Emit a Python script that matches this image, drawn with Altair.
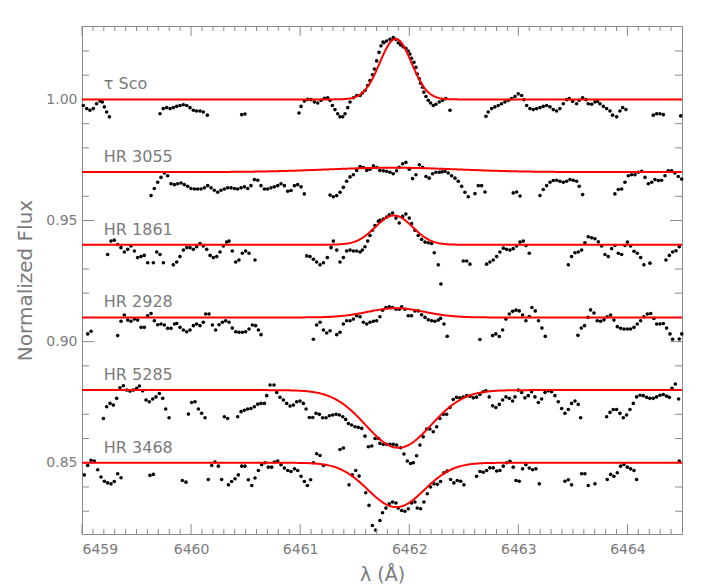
import altair as alt
import numpy as np
import pandas as pd

# ---------------- data ----------------
star_names = ["τ Sco", "HR 3055", "HR 1861", "HR 2928", "HR 5285", "HR 3468"]
baselines = [1.00, 0.97, 0.94, 0.91, 0.88, 0.85]

# Gaussian fit parameters (continuum, amplitude, centre, sigma)
fit_amp = [0.0250, 0.0018, 0.0121, 0.0038, -0.0238, -0.0183]
fit_center = [6461.875, 6461.85, 6461.86, 6461.88, 6461.90, 6461.88]
fit_sigma = [0.145, 0.60, 0.17, 0.26, 0.30, 0.26]

tau_sco = [
    (6459.012, 0.9975), (6459.043, 0.9962), (6459.073, 0.9955), (6459.104, 0.9962), (6459.134, 0.9982),
    (6459.165, 0.9993), (6459.186, 0.9989), (6459.205, 0.9969), (6459.226, 0.9948), (6459.251, 0.9928),
    (6459.715, 0.9941), (6459.745, 0.9962), (6459.776, 0.9966), (6459.807, 0.9962), (6459.837, 0.9966),
    (6459.868, 0.9971), (6459.898, 0.9975), (6459.929, 0.9978), (6459.960, 0.9975), (6459.990, 0.9966),
    (6460.021, 0.9955), (6460.051, 0.9952), (6460.082, 0.9952), (6460.112, 0.9948), (6460.149, 0.9935),
    (6460.464, 0.9937), (6460.494, 0.9940),
    (6460.989, 0.9944), (6461.008, 0.9971), (6461.038, 0.9993), (6461.069, 1.0000), (6461.099, 0.9999),
    (6461.130, 0.9989), (6461.161, 0.9985), (6461.191, 0.9996), (6461.222, 1.0005), (6461.252, 1.0007),
    (6461.274, 0.9996), (6461.295, 0.9975), (6461.319, 0.9958), (6461.344, 0.9941), (6461.365, 0.9928),
    (6461.390, 0.9928), (6461.411, 0.9941), (6461.436, 0.9966), (6461.457, 0.9989), (6461.488, 1.0007),
    (6461.518, 1.0016), (6461.549, 1.0016), (6461.570, 1.0026), (6461.594, 1.0037), (6461.619, 1.0057),
    (6461.640, 1.0078), (6461.662, 1.0102), (6461.680, 1.0125), (6461.701, 1.0159), (6461.723, 1.0194),
    (6461.741, 1.0221), (6461.759, 1.0237), (6461.768, 1.0234), (6461.792, 1.0241), (6461.823, 1.0248),
    (6461.853, 1.0255), (6461.878, 1.0248), (6461.899, 1.0234), (6461.920, 1.0225), (6461.945, 1.0217),
    (6461.969, 1.0211), (6461.991, 1.0200), (6462.006, 1.0187), (6462.021, 1.0170), (6462.043, 1.0153),
    (6462.061, 1.0132), (6462.073, 1.0105), (6462.092, 1.0085), (6462.104, 1.0067), (6462.122, 1.0050),
    (6462.134, 1.0030), (6462.153, 1.0012), (6462.174, 0.9996), (6462.195, 0.9985), (6462.220, 0.9975),
    (6462.244, 0.9980), (6462.275, 0.9989), (6462.305, 0.9996), (6462.336, 1.0003), (6462.373, 0.9955),
    (6462.703, 0.9930), (6462.724, 0.9948), (6462.755, 0.9962), (6462.785, 0.9969), (6462.816, 0.9975),
    (6462.846, 0.9982), (6462.877, 0.9989), (6462.908, 0.9996), (6462.938, 1.0003), (6462.969, 1.0012),
    (6462.999, 1.0023), (6463.030, 1.0016), (6463.051, 0.9999), (6463.076, 0.9975), (6463.106, 0.9962),
    (6463.137, 0.9958), (6463.167, 0.9962), (6463.198, 0.9966), (6463.228, 0.9971), (6463.259, 0.9975),
    (6463.290, 0.9969), (6463.320, 0.9958), (6463.351, 0.9952), (6463.381, 0.9962), (6463.412, 0.9982),
    (6463.442, 0.9999), (6463.467, 1.0003), (6463.497, 0.9992), (6463.534, 0.9982), (6463.558, 0.9996),
    (6463.589, 1.0007), (6463.620, 0.9999), (6463.641, 0.9982), (6463.672, 0.9980), (6463.702, 0.9989),
    (6463.724, 0.9992), (6463.748, 0.9982), (6463.779, 0.9971), (6463.809, 0.9962), (6463.840, 0.9952),
    (6463.864, 0.9935), (6463.901, 0.9928), (6463.931, 0.9952), (6463.956, 0.9966), (6463.986, 0.9958),
    (6464.237, 0.9935), (6464.268, 0.9941), (6464.298, 0.9941), (6464.329, 0.9937),
    (6464.488, 0.9932),
]

hr3055 = [
    (6459.633, 0.9603), (6459.663, 0.9632), (6459.694, 0.9658), (6459.724, 0.9678), (6459.755, 0.9696),
    (6459.785, 0.9685), (6459.816, 0.9652), (6459.847, 0.9648), (6459.877, 0.9652), (6459.908, 0.9655),
    (6459.938, 0.9648), (6459.969, 0.9641), (6459.999, 0.9632), (6460.030, 0.9630), (6460.060, 0.9630),
    (6460.091, 0.9630), (6460.122, 0.9635), (6460.152, 0.9644), (6460.183, 0.9635), (6460.213, 0.9625),
    (6460.244, 0.9617), (6460.274, 0.9625), (6460.305, 0.9630), (6460.335, 0.9635), (6460.366, 0.9635),
    (6460.397, 0.9632), (6460.427, 0.9630), (6460.458, 0.9635), (6460.488, 0.9639), (6460.519, 0.9632),
    (6460.549, 0.9644), (6460.580, 0.9669), (6460.611, 0.9666), (6460.641, 0.9644), (6460.672, 0.9630),
    (6460.702, 0.9630), (6460.733, 0.9635), (6460.763, 0.9639), (6460.794, 0.9644), (6460.824, 0.9652),
    (6460.855, 0.9644), (6460.886, 0.9621), (6460.916, 0.9624), (6460.947, 0.9644), (6460.977, 0.9648),
    (6461.008, 0.9639), (6461.038, 0.9610),
    (6461.274, 0.9605), (6461.304, 0.9598), (6461.335, 0.9603), (6461.365, 0.9617), (6461.396, 0.9637),
    (6461.426, 0.9662), (6461.457, 0.9680), (6461.488, 0.9689), (6461.518, 0.9707), (6461.549, 0.9723),
    (6461.579, 0.9719), (6461.610, 0.9707), (6461.640, 0.9712), (6461.671, 0.9726), (6461.701, 0.9719),
    (6461.731, 0.9707), (6461.762, 0.9705), (6461.792, 0.9703), (6461.823, 0.9699), (6461.853, 0.9693),
    (6461.884, 0.9705), (6461.908, 0.9720), (6461.939, 0.9734), (6461.969, 0.9740), (6462.000, 0.9712),
    (6462.030, 0.9673), (6462.061, 0.9689), (6462.092, 0.9730), (6462.122, 0.9720), (6462.153, 0.9682),
    (6462.183, 0.9675), (6462.214, 0.9693), (6462.244, 0.9699), (6462.275, 0.9699), (6462.300, 0.9701),
    (6462.327, 0.9703), (6462.357, 0.9696), (6462.388, 0.9685), (6462.419, 0.9675), (6462.449, 0.9662),
    (6462.480, 0.9641), (6462.510, 0.9617), (6462.541, 0.9598), (6462.602, 0.9611), (6462.633, 0.9644),
    (6462.663, 0.9644), (6462.694, 0.9618),
    (6462.953, 0.9614), (6462.984, 0.9618), (6463.015, 0.9601),
    (6463.198, 0.9603), (6463.228, 0.9628), (6463.259, 0.9644), (6463.290, 0.9658), (6463.320, 0.9665),
    (6463.351, 0.9666), (6463.381, 0.9662), (6463.412, 0.9658), (6463.442, 0.9662), (6463.473, 0.9669),
    (6463.503, 0.9666), (6463.534, 0.9662), (6463.558, 0.9641), (6463.589, 0.9607),
    (6463.885, 0.9610), (6463.916, 0.9628), (6463.947, 0.9630), (6463.977, 0.9658), (6464.008, 0.9685),
    (6464.038, 0.9689), (6464.069, 0.9689), (6464.099, 0.9699), (6464.130, 0.9703), (6464.161, 0.9678),
    (6464.191, 0.9652), (6464.222, 0.9658), (6464.252, 0.9669), (6464.283, 0.9665), (6464.313, 0.9666),
    (6464.344, 0.9685), (6464.374, 0.9705), (6464.405, 0.9705), (6464.435, 0.9696), (6464.466, 0.9682),
    (6464.497, 0.9671),
]

hr1861 = [
    (6459.235, 0.9360), (6459.266, 0.9415), (6459.296, 0.9419), (6459.327, 0.9401), (6459.357, 0.9388),
    (6459.388, 0.9370), (6459.419, 0.9381), (6459.449, 0.9395), (6459.480, 0.9374), (6459.510, 0.9347),
    (6459.541, 0.9351), (6459.571, 0.9356), (6459.602, 0.9326), (6459.654, 0.9326), (6459.685, 0.9370),
    (6459.715, 0.9360), (6459.746, 0.9326), (6459.837, 0.9317), (6459.868, 0.9329), (6459.898, 0.9351),
    (6459.929, 0.9378), (6459.960, 0.9388), (6459.990, 0.9388), (6460.021, 0.9381), (6460.051, 0.9392),
    (6460.082, 0.9405), (6460.112, 0.9395), (6460.143, 0.9381), (6460.174, 0.9356), (6460.204, 0.9347),
    (6460.235, 0.9351), (6460.265, 0.9370), (6460.296, 0.9395), (6460.326, 0.9411), (6460.348, 0.9415),
    (6460.378, 0.9374), (6460.409, 0.9329), (6460.439, 0.9337), (6460.470, 0.9365), (6460.500, 0.9374),
    (6460.531, 0.9365), (6460.586, 0.9337),
    (6461.060, 0.9354), (6461.090, 0.9351), (6461.121, 0.9340), (6461.151, 0.9329), (6461.182, 0.9317),
    (6461.213, 0.9326), (6461.249, 0.9347), (6461.283, 0.9388), (6461.304, 0.9415), (6461.335, 0.9378),
    (6461.365, 0.9329), (6461.396, 0.9347), (6461.426, 0.9374), (6461.457, 0.9378), (6461.488, 0.9374),
    (6461.518, 0.9374), (6461.549, 0.9370), (6461.570, 0.9378), (6461.594, 0.9392), (6461.619, 0.9415),
    (6461.640, 0.9438), (6461.662, 0.9460), (6461.686, 0.9479), (6461.717, 0.9497), (6461.731, 0.9501),
    (6461.762, 0.9506), (6461.792, 0.9514), (6461.817, 0.9524), (6461.847, 0.9531), (6461.878, 0.9510),
    (6461.908, 0.9490), (6461.939, 0.9517), (6461.969, 0.9527), (6462.000, 0.9510), (6462.021, 0.9487),
    (6462.052, 0.9460), (6462.082, 0.9438), (6462.113, 0.9422), (6462.144, 0.9411), (6462.174, 0.9408),
    (6462.205, 0.9405), (6462.229, 0.9367), (6462.266, 0.9317), (6462.290, 0.9238),
    (6462.495, 0.9333), (6462.526, 0.9333), (6462.556, 0.9320),
    (6462.709, 0.9320), (6462.739, 0.9329), (6462.770, 0.9337), (6462.801, 0.9351), (6462.831, 0.9370),
    (6462.862, 0.9386), (6462.892, 0.9381), (6462.923, 0.9378), (6462.953, 0.9384), (6462.984, 0.9395),
    (6463.015, 0.9411), (6463.045, 0.9415), (6463.070, 0.9397), (6463.100, 0.9365),
    (6463.458, 0.9317), (6463.488, 0.9351), (6463.519, 0.9367), (6463.549, 0.9370), (6463.580, 0.9378),
    (6463.610, 0.9408), (6463.641, 0.9433), (6463.672, 0.9429), (6463.702, 0.9425), (6463.733, 0.9412),
    (6463.763, 0.9395), (6463.794, 0.9360), (6463.824, 0.9351), (6463.855, 0.9384), (6463.885, 0.9397),
    (6463.916, 0.9365), (6463.947, 0.9360), (6463.977, 0.9397), (6464.000, 0.9411), (6464.029, 0.9395),
    (6464.060, 0.9373), (6464.090, 0.9365), (6464.121, 0.9347), (6464.151, 0.9317),
    (6464.206, 0.9324),
    (6464.353, 0.9337), (6464.384, 0.9356), (6464.414, 0.9370), (6464.445, 0.9375), (6464.475, 0.9392),
]

hr2928 = [
    (6459.052, 0.9032), (6459.083, 0.9043),
    (6459.327, 0.9025), (6459.358, 0.9084), (6459.388, 0.9110), (6459.419, 0.9089), (6459.449, 0.9084),
    (6459.480, 0.9093), (6459.510, 0.9089), (6459.541, 0.9059), (6459.571, 0.9059), (6459.602, 0.9107),
    (6459.633, 0.9116), (6459.663, 0.9086), (6459.694, 0.9070), (6459.724, 0.9073), (6459.755, 0.9069),
    (6459.785, 0.9055), (6459.816, 0.9055), (6459.847, 0.9073), (6459.868, 0.9075), (6459.898, 0.9059),
    (6459.929, 0.9048), (6459.960, 0.9041), (6459.990, 0.9048), (6460.021, 0.9066), (6460.051, 0.9073),
    (6460.082, 0.9066), (6460.112, 0.9080), (6460.134, 0.9114), (6460.164, 0.9114), (6460.195, 0.9069),
    (6460.225, 0.9048), (6460.256, 0.9070), (6460.287, 0.9080), (6460.317, 0.9086), (6460.348, 0.9080),
    (6460.378, 0.9056), (6460.409, 0.9041), (6460.439, 0.9039), (6460.470, 0.9039), (6460.500, 0.9041),
    (6460.531, 0.9052), (6460.562, 0.9069), (6460.592, 0.9066), (6460.617, 0.9048), (6460.641, 0.9029),
    (6461.121, 0.9010), (6461.151, 0.9069), (6461.182, 0.9080), (6461.213, 0.9048), (6461.243, 0.9036),
    (6461.274, 0.9045), (6461.335, 0.9029), (6461.365, 0.9039), (6461.396, 0.9073), (6461.426, 0.9086),
    (6461.457, 0.9086), (6461.488, 0.9093), (6461.518, 0.9107), (6461.549, 0.9103), (6461.579, 0.9080),
    (6461.610, 0.9073), (6461.640, 0.9080), (6461.671, 0.9084), (6461.701, 0.9086), (6461.731, 0.9103),
    (6461.755, 0.9130), (6461.786, 0.9141), (6461.817, 0.9144), (6461.847, 0.9141), (6461.878, 0.9134),
    (6461.908, 0.9134), (6461.930, 0.9144), (6461.960, 0.9134), (6461.991, 0.9107), (6462.021, 0.9107),
    (6462.052, 0.9127), (6462.082, 0.9127), (6462.113, 0.9111), (6462.144, 0.9100), (6462.174, 0.9090),
    (6462.205, 0.9086), (6462.235, 0.9084), (6462.266, 0.9089), (6462.287, 0.9096), (6462.318, 0.9073),
    (6462.348, 0.9022),
    (6462.648, 0.9009),
    (6462.764, 0.9025), (6462.794, 0.9032), (6462.825, 0.9021), (6462.856, 0.9048), (6462.886, 0.9093),
    (6462.917, 0.9114), (6462.947, 0.9125), (6462.978, 0.9130), (6463.008, 0.9127), (6463.039, 0.9110),
    (6463.069, 0.9086), (6463.100, 0.9104), (6463.124, 0.9141), (6463.155, 0.9127), (6463.185, 0.9086),
    (6463.216, 0.9056), (6463.247, 0.9022),
    (6463.546, 0.9026), (6463.577, 0.9056), (6463.607, 0.9066), (6463.638, 0.9100), (6463.662, 0.9131),
    (6463.693, 0.9118), (6463.723, 0.9086), (6463.754, 0.9084), (6463.785, 0.9090), (6463.815, 0.9103),
    (6463.846, 0.9110), (6463.876, 0.9089), (6463.907, 0.9062), (6463.937, 0.9055), (6463.968, 0.9052),
    (6463.999, 0.9052), (6464.029, 0.9052), (6464.060, 0.9059), (6464.090, 0.9073), (6464.121, 0.9086),
    (6464.151, 0.9103), (6464.182, 0.9114), (6464.213, 0.9116), (6464.243, 0.9096), (6464.268, 0.9073),
    (6464.298, 0.9073), (6464.329, 0.9075), (6464.359, 0.9056), (6464.390, 0.9032), (6464.414, 0.9010),
    (6464.475, 0.9011), (6464.498, 0.9032),
]

hr5285 = [
    (6459.196, 0.8683), (6459.226, 0.8731), (6459.257, 0.8745), (6459.287, 0.8738), (6459.318, 0.8766),
    (6459.348, 0.8810), (6459.379, 0.8818), (6459.410, 0.8800), (6459.440, 0.8796), (6459.471, 0.8800),
    (6459.501, 0.8807), (6459.526, 0.8817), (6459.556, 0.8797), (6459.587, 0.8759), (6459.617, 0.8752),
    (6459.648, 0.8763), (6459.678, 0.8772), (6459.709, 0.8786), (6459.740, 0.8766), (6459.767, 0.8722),
    (6459.798, 0.8686),
    (6459.975, 0.8701), (6460.005, 0.8749), (6460.036, 0.8752), (6460.067, 0.8722), (6460.097, 0.8704),
    (6460.128, 0.8686),
    (6460.305, 0.8690), (6460.335, 0.8683),
    (6460.427, 0.8690), (6460.458, 0.8711), (6460.488, 0.8717), (6460.519, 0.8722), (6460.549, 0.8724),
    (6460.580, 0.8731), (6460.611, 0.8742), (6460.641, 0.8745), (6460.672, 0.8745), (6460.693, 0.8777),
    (6460.724, 0.8821), (6460.760, 0.8821), (6460.785, 0.8790), (6460.815, 0.8770), (6460.846, 0.8759),
    (6460.876, 0.8745), (6460.907, 0.8734), (6460.938, 0.8738), (6460.968, 0.8752), (6460.999, 0.8755),
    (6461.029, 0.8745), (6461.054, 0.8722), (6461.084, 0.8687), (6461.115, 0.8687), (6461.145, 0.8704),
    (6461.176, 0.8700), (6461.206, 0.8686), (6461.237, 0.8686), (6461.268, 0.8694), (6461.298, 0.8697),
    (6461.329, 0.8700), (6461.359, 0.8697), (6461.390, 0.8690), (6461.417, 0.8679), (6461.442, 0.8662),
    (6461.472, 0.8656), (6461.503, 0.8649), (6461.533, 0.8646), (6461.564, 0.8642), (6461.594, 0.8610),
    (6461.625, 0.8566), (6461.656, 0.8569), (6461.686, 0.8600), (6461.717, 0.8600), (6461.731, 0.8580),
    (6461.762, 0.8576), (6461.792, 0.8576), (6461.823, 0.8576), (6461.853, 0.8576), (6461.884, 0.8573),
    (6461.920, 0.8562), (6461.951, 0.8536), (6461.982, 0.8507), (6462.012, 0.8497), (6462.037, 0.8500),
    (6462.067, 0.8529), (6462.098, 0.8573), (6462.128, 0.8607), (6462.159, 0.8639), (6462.189, 0.8639),
    (6462.220, 0.8628), (6462.251, 0.8649), (6462.281, 0.8683), (6462.312, 0.8700), (6462.342, 0.8700),
    (6462.373, 0.8728), (6462.403, 0.8761), (6462.434, 0.8770), (6462.464, 0.8768), (6462.495, 0.8771),
    (6462.526, 0.8777), (6462.556, 0.8775), (6462.587, 0.8768), (6462.617, 0.8771), (6462.648, 0.8782),
    (6462.678, 0.8793), (6462.703, 0.8797), (6462.733, 0.8772), (6462.764, 0.8735), (6462.794, 0.8728),
    (6462.825, 0.8741), (6462.856, 0.8759), (6462.886, 0.8772), (6462.917, 0.8766), (6462.947, 0.8755),
    (6462.969, 0.8772), (6462.999, 0.8800), (6463.030, 0.8790), (6463.060, 0.8768), (6463.091, 0.8777),
    (6463.121, 0.8793), (6463.152, 0.8772), (6463.183, 0.8749), (6463.213, 0.8763), (6463.244, 0.8790),
    (6463.274, 0.8797), (6463.305, 0.8793), (6463.335, 0.8777), (6463.366, 0.8752), (6463.397, 0.8724),
    (6463.427, 0.8704), (6463.458, 0.8720), (6463.488, 0.8745), (6463.519, 0.8755), (6463.549, 0.8741),
    (6463.571, 0.8686),
    (6463.809, 0.8690), (6463.840, 0.8708), (6463.870, 0.8720), (6463.901, 0.8720), (6463.931, 0.8704),
    (6463.962, 0.8686), (6463.992, 0.8697), (6464.023, 0.8720), (6464.054, 0.8745), (6464.084, 0.8772),
    (6464.115, 0.8779), (6464.145, 0.8777), (6464.176, 0.8770), (6464.206, 0.8766), (6464.237, 0.8766),
    (6464.267, 0.8772), (6464.298, 0.8779), (6464.329, 0.8782), (6464.359, 0.8775), (6464.384, 0.8770),
    (6464.408, 0.8807), (6464.439, 0.8825), (6464.469, 0.8763),
]

hr3468 = [
    (6459.021, 0.8450), (6459.052, 0.8489), (6459.083, 0.8510), (6459.113, 0.8507), (6459.144, 0.8471),
    (6459.174, 0.8441), (6459.205, 0.8424), (6459.235, 0.8417), (6459.266, 0.8413), (6459.296, 0.8423),
    (6459.327, 0.8455), (6459.358, 0.8438),
    (6459.623, 0.8448), (6459.654, 0.8452),
    (6459.920, 0.8427), (6459.953, 0.8420),
    (6460.158, 0.8431), (6460.189, 0.8489), (6460.219, 0.8503), (6460.250, 0.8486), (6460.280, 0.8431),
    (6460.342, 0.8409), (6460.372, 0.8423), (6460.403, 0.8434), (6460.433, 0.8450), (6460.464, 0.8486),
    (6460.494, 0.8486), (6460.525, 0.8430), (6460.556, 0.8406), (6460.586, 0.8437), (6460.617, 0.8468),
    (6460.647, 0.8492), (6460.678, 0.8500), (6460.708, 0.8482), (6460.739, 0.8482), (6460.763, 0.8503),
    (6460.794, 0.8507), (6460.824, 0.8492), (6460.855, 0.8478), (6460.886, 0.8468), (6460.916, 0.8464),
    (6460.947, 0.8475), (6460.977, 0.8468), (6461.008, 0.8444), (6461.038, 0.8423), (6461.066, 0.8406),
    (6461.096, 0.8430), (6461.121, 0.8500), (6461.151, 0.8537), (6461.182, 0.8530), (6461.213, 0.8489),
    (6461.365, 0.8555), (6461.396, 0.8561), (6461.448, 0.8409), (6461.478, 0.8450), (6461.509, 0.8468),
    (6461.540, 0.8445), (6461.601, 0.8376), (6461.631, 0.8324), (6461.662, 0.8241), (6461.692, 0.8222),
    (6461.731, 0.8262), (6461.755, 0.8294), (6461.786, 0.8313), (6461.817, 0.8331), (6461.847, 0.8338),
    (6461.878, 0.8334), (6461.899, 0.8313), (6461.930, 0.8303), (6461.960, 0.8300), (6461.991, 0.8310),
    (6462.021, 0.8334), (6462.052, 0.8338), (6462.073, 0.8313), (6462.104, 0.8310), (6462.134, 0.8338),
    (6462.165, 0.8372), (6462.195, 0.8400), (6462.226, 0.8413), (6462.257, 0.8411), (6462.287, 0.8423),
    (6462.318, 0.8459), (6462.348, 0.8466), (6462.379, 0.8431), (6462.409, 0.8417), (6462.440, 0.8427),
    (6462.471, 0.8424), (6462.501, 0.8409),
    (6462.617, 0.8444), (6462.648, 0.8464), (6462.678, 0.8461), (6462.709, 0.8468), (6462.739, 0.8479),
    (6462.770, 0.8479), (6462.801, 0.8466), (6462.831, 0.8468), (6462.862, 0.8486), (6462.892, 0.8500),
    (6462.923, 0.8506), (6462.953, 0.8482), (6462.978, 0.8427), (6463.008, 0.8424), (6463.039, 0.8475),
    (6463.069, 0.8492), (6463.100, 0.8478), (6463.131, 0.8471), (6463.161, 0.8475), (6463.192, 0.8413),
    (6463.427, 0.8424), (6463.458, 0.8430), (6463.488, 0.8409),
    (6463.580, 0.8455), (6463.610, 0.8455), (6463.641, 0.8406),
    (6463.702, 0.8413),
    (6463.815, 0.8431), (6463.846, 0.8452), (6463.876, 0.8444), (6463.907, 0.8459), (6463.937, 0.8486),
    (6463.968, 0.8493), (6463.999, 0.8482), (6464.029, 0.8475), (6464.060, 0.8468), (6464.084, 0.8431),
    (6464.475, 0.8507),
]

spectra = [tau_sco, hr3055, hr1861, hr2928, hr5285, hr3468]

x_major_ticks = [6459, 6460, 6461, 6462, 6463, 6464]
y_major_ticks = [0.85, 0.90, 0.95, 1.00]

# ---------------- layout / style constants ----------------
X_DOMAIN = [6459.0, 6464.5]
Y_DOMAIN = [0.8206, 1.0303]
W, H = 600, 508
GRAY = "#8a8a8a"
TEXT_GRAY = "#7a7a7a"
FONT = "DejaVu Sans"
LABEL_X = 6459.2
LABEL_DY = 0.0062

# ---------------- tables ----------------
pts = pd.concat(
    [pd.DataFrame(s, columns=["wl", "flux"]).assign(star=n) for s, n in zip(spectra, star_names)],
    ignore_index=True,
)

grid = np.linspace(X_DOMAIN[0], X_DOMAIN[1], 551)
fits = pd.concat(
    [
        pd.DataFrame({
            "wl": grid,
            "flux": b + a * np.exp(-0.5 * ((grid - c) / s) ** 2),
            "star": n,
        })
        for n, b, a, c, s in zip(star_names, baselines, fit_amp, fit_center, fit_sigma)
    ],
    ignore_index=True,
)

labels = pd.DataFrame({
    "name": star_names,
    "wl": [LABEL_X] * len(star_names),
    "flux": [b + LABEL_DY for b in baselines],
})

x_minor = [v for v in np.round(np.arange(6459.1, 6464.45, 0.1), 1) if abs(v - round(v)) > 1e-6]
y_minor = [v for v in np.round(np.arange(0.83, 1.025, 0.01), 2)
           if min(abs(v - m) for m in y_major_ticks) > 1e-6]
xt_major = pd.DataFrame({"t": x_major_ticks})
xt_minor = pd.DataFrame({"t": x_minor})
yt_major = pd.DataFrame({"t": y_major_ticks})
yt_minor = pd.DataFrame({"t": y_minor})

# ---------------- scales & axes ----------------
xs = alt.Scale(domain=X_DOMAIN, nice=False, zero=False)
ys = alt.Scale(domain=Y_DOMAIN, nice=False, zero=False)

x_axis = alt.Axis(
    values=x_major_ticks, format="d", ticks=False, domain=False, grid=False,
    labelPadding=8, labelFontSize=14, labelFont=FONT, labelColor=TEXT_GRAY,
    title="λ (Å)", titleFontSize=19, titleFont=FONT, titleColor=TEXT_GRAY,
    titleFontWeight="normal", titlePadding=9,
)
y_axis = alt.Axis(
    values=y_major_ticks, format=".2f", ticks=False, domain=False, grid=False,
    labelPadding=5, labelFontSize=14, labelFont=FONT, labelColor=TEXT_GRAY,
    title="Normalized Flux", titleFontSize=20, titleFont=FONT, titleColor=TEXT_GRAY,
    titleFontWeight="normal", titlePadding=10,
)

X = alt.X("wl:Q", scale=xs, axis=x_axis)
Y = alt.Y("flux:Q", scale=ys, axis=y_axis)

dots = alt.Chart(pts).mark_circle(size=13, color="black", opacity=1).encode(x=X, y=Y)
lines = alt.Chart(fits).mark_line(color="#ff0000", strokeWidth=2).encode(
    x=alt.X("wl:Q", scale=xs), y=alt.Y("flux:Q", scale=ys), detail="star:N"
)
names = alt.Chart(labels).mark_text(
    align="left", baseline="middle", font=FONT, fontSize=16, color=TEXT_GRAY
).encode(x=alt.X("wl:Q", scale=xs), y=alt.Y("flux:Q", scale=ys), text="name:N")


def xticks(df, length):
    bottom = alt.Chart(df).mark_rule(color=GRAY, strokeWidth=1).encode(
        x=alt.X("t:Q", scale=xs), y=alt.value(H), y2=alt.value(H - length))
    top = alt.Chart(df).mark_rule(color=GRAY, strokeWidth=1).encode(
        x=alt.X("t:Q", scale=xs), y=alt.value(0), y2=alt.value(length))
    return [bottom, top]


def yticks(df, length):
    left = alt.Chart(df).mark_rule(color=GRAY, strokeWidth=1).encode(
        y=alt.Y("t:Q", scale=ys), x=alt.value(0), x2=alt.value(length))
    right = alt.Chart(df).mark_rule(color=GRAY, strokeWidth=1).encode(
        y=alt.Y("t:Q", scale=ys), x=alt.value(W), x2=alt.value(W - length))
    return [left, right]


tick_layers = xticks(xt_major, 10) + xticks(xt_minor, 5) + yticks(yt_major, 12) + yticks(yt_minor, 7)

chart = alt.layer(dots, *tick_layers, lines, names).properties(
    width=W, height=H,
    autosize=alt.AutoSizeParams(type="none"),
    padding={"left": 74, "top": 18, "right": 8, "bottom": 54},
    background="white",
).configure_view(stroke=GRAY, strokeWidth=1)

chart.save("out.html", embed_options={"renderer": "svg", "actions": False})
